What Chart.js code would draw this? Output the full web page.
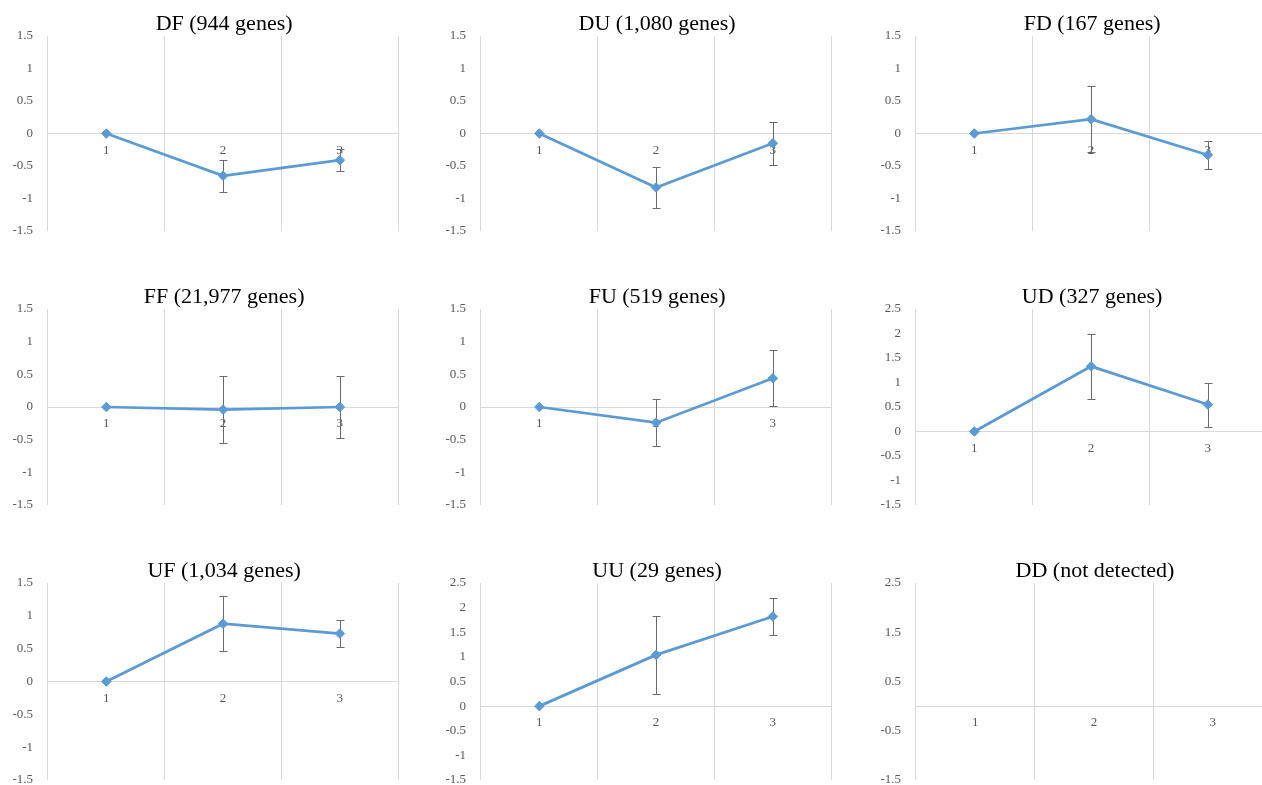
<!DOCTYPE html>
<html>
<head>
<meta charset="utf-8">
<script src="https://cdn.jsdelivr.net/npm/chart.js@4/dist/chart.umd.min.js"></script>
<style>
  html, body { margin: 0; padding: 0; background: #ffffff; overflow: hidden; }
  #grid { position: relative; width: 1262px; height: 785px; overflow: hidden; }
  #grid canvas { position: absolute; }
</style>
</head>
<body>
<div id="grid"></div>
<script>
// Time points on the category axis
const categories = ['1', '2', '3'];

// Mean relative expression per cluster, with standard deviation
const dfMeans = [0, -0.65, -0.41];
const dfErrors = [0, 0.25, 0.17];
const duMeans = [0, -0.83, -0.15];
const duErrors = [0, 0.32, 0.33];
const fdMeans = [0, 0.22, -0.33];
const fdErrors = [0, 0.51, 0.22];
const ffMeans = [0, -0.04, 0.0];
const ffErrors = [0, 0.51, 0.47];
const fuMeans = [0, -0.24, 0.44];
const fuErrors = [0, 0.36, 0.43];
const udMeans = [0, 1.33, 0.55];
const udErrors = [0, 0.67, 0.45];
const ufMeans = [0, 0.88, 0.73];
const ufErrors = [0, 0.42, 0.21];
const uuMeans = [0, 1.04, 1.82];
const uuErrors = [0, 0.79, 0.37];

// Panel headings
const titles = [
  'DF (944 genes)', 'DU (1,080 genes)', 'FD (167 genes)',
  'FF (21,977 genes)', 'FU (519 genes)', 'UD (327 genes)',
  'UF (1,034 genes)', 'UU (29 genes)', 'DD (not detected)'
];

// Value-axis tick labels
const ticksNarrow = [-1.5, -1, -0.5, 0, 0.5, 1, 1.5];
const ticksWide = [-1.5, -1, -0.5, 0, 0.5, 1, 1.5, 2, 2.5];
const ticksSparse = [-1.5, -0.5, 0.5, 1.5, 2.5];

const panels = [
  { title: titles[0], means: dfMeans, errors: dfErrors, ticks: ticksNarrow },
  { title: titles[1], means: duMeans, errors: duErrors, ticks: ticksNarrow },
  { title: titles[2], means: fdMeans, errors: fdErrors, ticks: ticksNarrow },
  { title: titles[3], means: ffMeans, errors: ffErrors, ticks: ticksNarrow },
  { title: titles[4], means: fuMeans, errors: fuErrors, ticks: ticksNarrow },
  { title: titles[5], means: udMeans, errors: udErrors, ticks: ticksWide },
  { title: titles[6], means: ufMeans, errors: ufErrors, ticks: ticksNarrow },
  { title: titles[7], means: uuMeans, errors: uuErrors, ticks: ticksWide },
  { title: titles[8], means: null, errors: null, ticks: ticksSparse }
];

// Grid placement of the nine small charts
const colLeft = [0, 433, 868];
const rowTop = [0, 273, 547];
const plotHeight = [195, 196, 197];
const axisWidth = 48;
const plotWidth = 351;
const rightSlack = 5;   // the layout keeps a few pixels free at the right edge
const padTop = 36;
const padBottom = 12;

const SERIF = '"Liberation Serif", "Times New Roman", serif';
const LINE_BLUE = '#5b9bd5';
const GRID_GREY = '#d9d9d9';
const TEXT_GREY = '#595959';

// Heading centred over the plot area
const panelTitle = {
  id: 'panelTitle',
  afterDraw(chart, args, opts) {
    const { ctx, chartArea } = chart;
    ctx.save();
    ctx.font = '22px ' + SERIF;
    ctx.fillStyle = '#000000';
    ctx.textAlign = 'center';
    ctx.textBaseline = 'alphabetic';
    ctx.fillText(opts.text, (chartArea.left + chartArea.right) / 2 + 1, chartArea.top - 6);
    ctx.restore();
  }
};

// Vertical error bars with short caps, placed through the value scale
const errorBars = {
  id: 'errorBars',
  beforeDatasetsDraw(chart, args, opts) {
    const errs = opts.errors;
    if (!errs || !chart.data.datasets.length) return;
    const meta = chart.getDatasetMeta(0);
    const values = chart.data.datasets[0].data;
    const y = chart.scales.y;
    const ctx = chart.ctx;
    ctx.save();
    ctx.strokeStyle = '#6a6a6a';
    ctx.lineWidth = 1;
    meta.data.forEach((pt, i) => {
      const e = errs[i];
      if (!e) return;
      const x = Math.round(pt.x) + 0.5;
      const yTop = Math.round(y.getPixelForValue(values[i] + e)) + 0.5;
      const yBot = Math.round(y.getPixelForValue(values[i] - e)) + 0.5;
      ctx.beginPath();
      ctx.moveTo(x, yTop); ctx.lineTo(x, yBot);
      ctx.moveTo(x - 4, yTop); ctx.lineTo(x + 4, yTop);
      ctx.moveTo(x - 4, yBot); ctx.lineTo(x + 4, yBot);
      ctx.stroke();
    });
    ctx.restore();
  }
};

// Axes take no room of their own; the layout padding fixes the plot area
function clearScalePadding(scale) {
  scale.paddingTop = 0;
  scale.paddingBottom = 0;
  scale.paddingLeft = 0;
  scale.paddingRight = 0;
}

const grid = document.getElementById('grid');

panels.forEach((p, idx) => {
  const col = idx % 3;
  const row = Math.floor(idx / 3);
  const canvas = document.createElement('canvas');
  const w = axisWidth + plotWidth + rightSlack;
  const h = padTop + plotHeight[row] + padBottom;
  canvas.width = w;
  canvas.height = h;
  canvas.style.width = w + 'px';
  canvas.style.height = h + 'px';
  canvas.style.left = colLeft[col] + 'px';
  canvas.style.top = rowTop[row] + 'px';
  grid.appendChild(canvas);

  const tickValues = p.ticks;
  const datasets = p.means ? [{
    data: p.means,
    borderColor: LINE_BLUE,
    backgroundColor: LINE_BLUE,
    borderWidth: 2.75,
    tension: 0,
    pointStyle: 'rectRot',
    pointRadius: 4.8,
    pointBorderWidth: 1,
    pointBackgroundColor: LINE_BLUE,
    pointBorderColor: LINE_BLUE
  }] : [];

  new Chart(canvas, {
    type: 'line',
    data: { labels: categories, datasets },
    plugins: [errorBars, panelTitle],
    options: {
      responsive: false,
      animation: false,
      devicePixelRatio: 1,
      layout: { padding: { top: padTop, bottom: padBottom, left: 0, right: 0 } },
      plugins: {
        legend: { display: false },
        title: { display: false },
        tooltip: { enabled: false },
        panelTitle: { text: p.title },
        errorBars: { errors: p.errors }
      },
      scales: {
        x: {
          type: 'category',
          position: { y: 0 },
          offset: true,
          grid: { offset: true, color: GRID_GREY, lineWidth: 1, drawTicks: false },
          border: { color: GRID_GREY, width: 1 },
          ticks: {
            padding: 9,
            color: TEXT_GREY,
            maxRotation: 0,
            font: { family: SERIF, size: 13 }
          },
          afterFit(scale) { scale.height = 0; clearScalePadding(scale); }
        },
        y: {
          min: tickValues[0],
          max: tickValues[tickValues.length - 1],
          grid: { display: false, drawTicks: false },
          border: { display: false },
          ticks: {
            padding: 15,
            color: TEXT_GREY,
            font: { family: SERIF, size: 13 },
            callback: (v) => String(Math.round(v * 10) / 10)
          },
          afterBuildTicks(scale) {
            scale.ticks = tickValues.map(v => ({ value: v }));
          },
          afterFit(scale) { scale.width = axisWidth; clearScalePadding(scale); }
        }
      }
    }
  });
});
</script>
</body>
</html>
